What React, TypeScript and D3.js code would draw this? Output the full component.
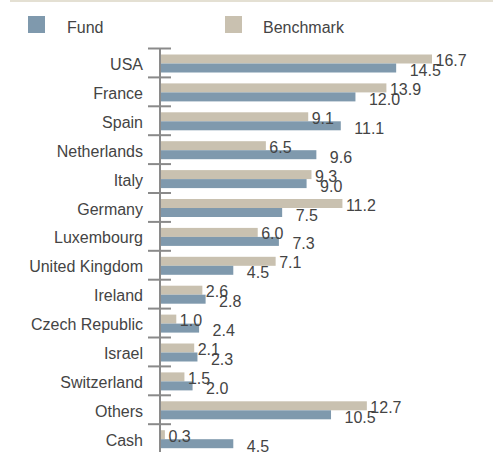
import React from "react";
import * as d3 from "d3";

const categories = ["USA","France","Spain","Netherlands","Italy","Germany","Luxembourg","United Kingdom","Ireland","Czech Republic","Israel","Switzerland","Others","Cash"];
const fundValues = [14.5,12.0,11.1,9.6,9.0,7.5,7.3,4.5,2.8,2.4,2.3,2.0,10.5,4.5];
const benchmarkValues = [16.7,13.9,9.1,6.5,9.3,11.2,6.0,7.1,2.6,1.0,2.1,1.5,12.7,0.3];
const seriesNames = ["Fund","Benchmark"];

const W = 499, H = 452;
const FUND = "#7f99ad";
const BENCH = "#c9c1b0";
const TEXT = "#444444";
const AXIS = "#8a8a8a";
const FONT = "'Liberation Sans', Arial, Helvetica, sans-serif";

export default function App() {
  const x = d3.scaleLinear().domain([0, 16.7]).range([160, 432]);
  const y = d3.scaleBand<string>().domain(categories).range([48.5, 48.5 + 14 * 28.9]).padding(0);
  const bw = y.bandwidth();
  const ticks = d3.range(categories.length + 1).map(i => 48.5 + i * bw);

  return (
    <svg width={W} height={H} style={{ position: "fixed", left: 0, top: 0, background: "#fff" }} fontFamily={FONT}>
      <rect x={10} y={0} width={483} height={2} fill="#e4e0d3" />
      {/* legend */}
      <rect x={28} y={16} width={17} height={17} fill={FUND} />
      <text x={67} y={32.5} fontSize={16} fill={TEXT}>{seriesNames[0]}</text>
      <rect x={225} y={16} width={17} height={17} fill={BENCH} />
      <text x={263} y={32.5} fontSize={16} fill={TEXT}>{seriesNames[1]}</text>

      {categories.map((c, i) => {
        const y0 = y(c)!;
        return (
          <g key={c}>
            <rect x={x(0)} y={y0 + 6} width={x(benchmarkValues[i]) - x(0)} height={9} fill={BENCH} />
            <rect x={x(0)} y={y0 + 15} width={x(fundValues[i]) - x(0)} height={9} fill={FUND} />
            <text x={143} y={y0 + 21.5} fontSize={16} fill={TEXT} textAnchor="end">{c}</text>
            <text x={x(benchmarkValues[i]) + 3.5} y={y0 + 17.5} fontSize={16} fill={TEXT}>{benchmarkValues[i].toFixed(1)}</text>
            <text x={x(fundValues[i]) + 13.5} y={y0 + 27.5} fontSize={16} fill={TEXT}>{fundValues[i].toFixed(1)}</text>
          </g>
        );
      })}

      {/* axis */}
      <line x1={160} x2={160} y1={ticks[0]} y2={ticks[ticks.length - 1]} stroke={AXIS} strokeWidth={2} />
      {ticks.map((t, i) => (
        <line key={i} x1={148} x2={171} y1={t} y2={t} stroke={AXIS} strokeWidth={2} />
      ))}
    </svg>
  );
}
